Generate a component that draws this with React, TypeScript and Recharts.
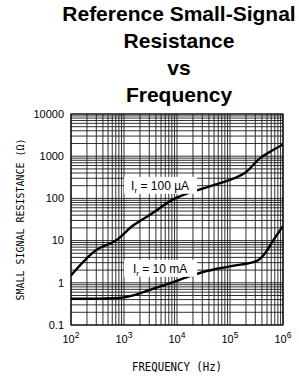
import { CartesianGrid, Line, LineChart, ReferenceArea, ReferenceDot, XAxis, YAxis } from "recharts";

// decade marks and labels
const freqDecades = [100, 1000, 10000, 100000, 1000000];
const freqExponents = ["2", "3", "4", "5", "6"];
const resDecades = [0.1, 1, 10, 100, 1000, 10000];
const resLabels = ["0.1", "1", "10", "100", "1000", "10000"];
const mantissas = [1, 2, 3, 4, 5, 6, 7, 8, 9];

// grid ticks: every 1..9 step in each decade
const freqGrid = [...freqDecades.slice(0, -1).flatMap((d) => mantissas.map((m) => d * m)), 1000000];
const resGrid = [...resDecades.slice(0, -1).flatMap((d) => mantissas.map((m) => +(d * m).toPrecision(3))), 10000];

// Ir = 100 uA  (frequency Hz, resistance ohm)
const ir100Freq = [100, 300, 700, 1500, 3000, 8500, 20000, 65000, 120000, 190000, 370000, 650000, 1000000];
const ir100Res = [1.5, 6, 10, 23, 40, 95, 145, 230, 300, 400, 900, 1400, 1900];

// Ir = 10 mA
const ir10Freq = [100, 300, 700, 1000, 2000, 3100, 7400, 15000, 31000, 100000, 320000, 460000, 650000, 1000000];
const ir10Res = [0.42, 0.42, 0.43, 0.45, 0.56, 0.68, 0.98, 1.35, 1.8, 2.45, 3.3, 5, 10, 22];

// where the curve labels sit
const labelFreq = [4800, 4800];
const labelRes = [204, 2.2];
const labelText = [["100", "\u00a0\u00b5A"], ["10", "\u00a0mA"]];

const ir100 = ir100Freq.map((f, i) => ({ f, r: ir100Res[i] }));
const ir10 = ir10Freq.map((f, i) => ({ f, r: ir10Res[i] }));

const sans = "'Liberation Sans', Arial, sans-serif";
const mono = "'DejaVu Sans Mono', monospace";

function FreqTick({ x, y, payload }: any) {
  const i = freqDecades.indexOf(payload.value);
  if (i < 0) return <g />;
  return (
    <text x={x} y={y + 18} textAnchor="middle" fontFamily={sans} fontSize={11} fill="#000">
      10
      <tspan dy={-5} fontSize={8.5}>{freqExponents[i]}</tspan>
    </text>
  );
}

function ResTick({ x, y, payload }: any) {
  const i = resDecades.indexOf(payload.value);
  if (i < 0) return <g />;
  return (
    <text x={x - 7} y={y} dy="0.35em" textAnchor="end" fontFamily={sans} fontSize={11} fill="#000">
      {resLabels[i]}
    </text>
  );
}

function CurveLabel(idx: number) {
  return ({ cx, cy }: any) => (
    <g>
      <rect x={cx - 36} y={cy - 8.5} width={73} height={17} fill="#fff" />
      <text x={cx} y={cy + 4.5} textAnchor="middle" fontFamily={sans} fontSize={12} fill="#000">
        I<tspan dy={3} fontSize={8}>r</tspan>
        <tspan dy={-3}>{" = " + labelText[idx][0] + labelText[idx][1]}</tspan>
      </text>
    </g>
  );
}

export default function App() {
  return (
    <div style={{ position: "absolute", left: 0, top: 0, width: 299, height: 379, background: "#fff" }}>
      <div
        style={{
          position: "absolute",
          left: 30,
          top: 0,
          width: 298,
          textAlign: "center",
          fontFamily: sans,
          fontWeight: "bold",
          fontSize: 21,
          lineHeight: "27px",
          whiteSpace: "nowrap",
          color: "#000",
        }}
      >
        Reference Small-Signal
        <br />
        Resistance
        <br />
        vs
        <br />
        Frequency
      </div>
      <LineChart width={299} height={379} margin={{ top: 114, right: 16, bottom: 0, left: 0 }}>
        <CartesianGrid stroke="#1a1a1a" strokeWidth={0.9} />
        <XAxis
          dataKey="f"
          type="number"
          scale="log"
          domain={[100, 1000000]}
          ticks={freqGrid}
          interval={0}
          allowDataOverflow
          height={54}
          tickSize={0}
          tickMargin={0}
          axisLine={false}
          tick={<FreqTick />}
          label={{
            content: ({ viewBox }: any) => (
              <text
                x={viewBox.x + viewBox.width / 2}
                y={371}
                textAnchor="middle"
                fontFamily={mono}
                fontSize={12.5}
                textLength={90}
                lengthAdjust="spacingAndGlyphs"
                fill="#000"
              >
                FREQUENCY (Hz)
              </text>
            ),
          }}
        />
        <YAxis
          dataKey="r"
          type="number"
          scale="log"
          domain={[0.1, 10000]}
          ticks={resGrid}
          interval={0}
          allowDataOverflow
          width={71}
          tickSize={0}
          tickMargin={0}
          axisLine={false}
          tick={<ResTick />}
          label={{
            content: ({ viewBox }: any) => {
              const cy = viewBox.y + viewBox.height / 2;
              return (
                <text
                  x={24}
                  y={cy}
                  transform={`rotate(-90 24 ${cy})`}
                  textAnchor="middle"
                  fontFamily={mono}
                  fontSize={10}
                  textLength={162}
                  lengthAdjust="spacingAndGlyphs"
                  fill="#000"
                >
                  SMALL SIGNAL RESISTANCE (Ω)
                </text>
              );
            },
          }}
        />
        <ReferenceArea x1={100} x2={1000000} y1={0.1} y2={10000} fill="none" stroke="#000" strokeWidth={1.2} />
        {labelFreq.map((f, i) => (
          <ReferenceDot key={i} x={f} y={labelRes[i]} r={0} shape={CurveLabel(i)} />
        ))}
        <Line data={ir100} dataKey="r" type="monotone" stroke="#000" strokeWidth={2.4} dot={false} isAnimationActive={false} />
        <Line data={ir10} dataKey="r" type="monotone" stroke="#000" strokeWidth={2.4} dot={false} isAnimationActive={false} />
      </LineChart>
    </div>
  );
}
